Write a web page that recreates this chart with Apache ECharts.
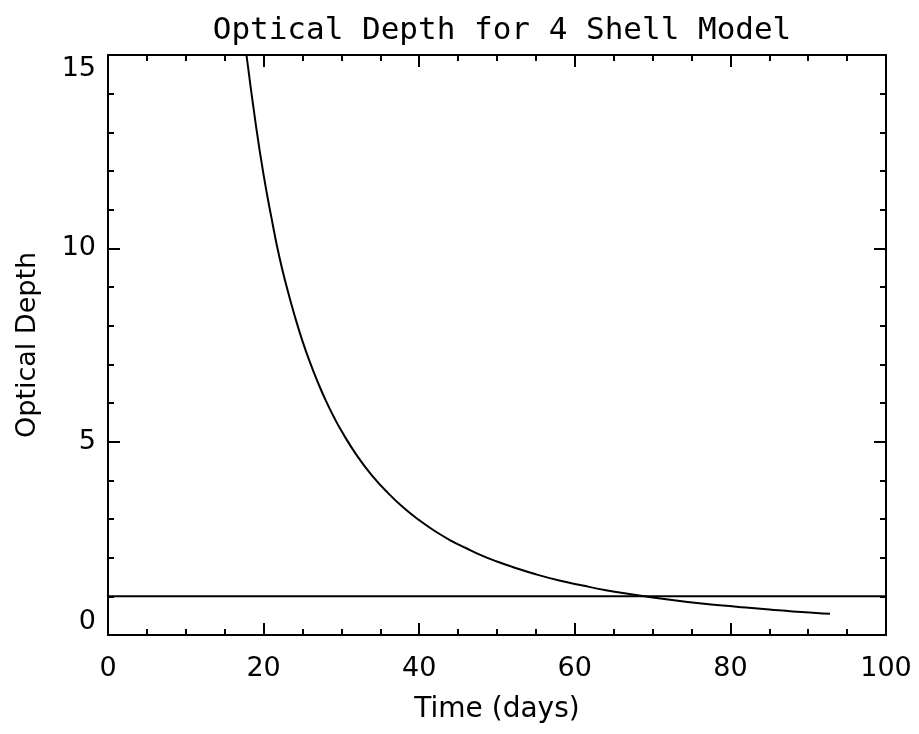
<!DOCTYPE html>
<html>
<head>
<meta charset="utf-8">
<title>Optical Depth for 4 Shell Model</title>
<script src="https://cdn.jsdelivr.net/npm/echarts@6/dist/echarts.min.js"></script>
<style>
  html, body { margin: 0; padding: 0; background: #fff; }
  #chart { width: 919px; height: 734px; }
</style>
</head>
<body>
<div id="chart"></div>
<script>
// values
const timeDays = [17.8, 19, 20, 21, 22, 23, 24, 25, 26, 27, 28, 29, 30, 32, 34, 36, 38, 40,
  42, 44, 46, 48, 50, 52, 55, 58, 61, 64, 67, 70, 73, 76, 79, 82, 85, 88, 91, 92.8]
const opticalDepth = [15.0, 13.2, 11.9, 10.8, 9.8, 8.98, 8.25, 7.6, 7.03, 6.52, 6.06, 5.65, 5.28, 4.64, 4.11, 3.67, 3.29, 2.97,
  2.69, 2.45, 2.25, 2.06, 1.90, 1.76, 1.57, 1.41, 1.28, 1.16, 1.06, 0.97, 0.89, 0.82, 0.76, 0.71, 0.66, 0.61, 0.57, 0.55]

// tau = 1 reference line
const thresholdX = [0, 100]
const thresholdY = [1, 1]

const xTicks = [0, 20, 40, 60, 80, 100]
const yTicks = [0, 5, 10, 15]

const font = 'DejaVu Sans'
const ink = '#000'

const chart = echarts.init(document.getElementById('chart'), null, { renderer: 'canvas' })

const baseAxis = {
  axisLine: { show: true, onZero: false, lineStyle: { color: ink, width: 2 } },
  axisTick: { show: true, inside: true, length: 12, lineStyle: { color: ink, width: 2 } },
  minorTick: { show: true, length: 6, lineStyle: { color: ink, width: 2 } },
  splitLine: { show: false }
}

const xBase = {
  ...baseAxis,
  type: 'value',
  min: xTicks[0],
  max: xTicks[xTicks.length - 1],
  interval: xTicks[1] - xTicks[0],
  minorTick: { ...baseAxis.minorTick, splitNumber: 4 }
}

const yBase = {
  ...baseAxis,
  type: 'value',
  min: yTicks[0],
  max: yTicks[yTicks.length - 1],
  interval: yTicks[1] - yTicks[0],
  minorTick: { ...baseAxis.minorTick, splitNumber: 5 }
}

const option = {
  backgroundColor: '#fff',
  animation: false,
  title: {
    text: 'Optical Depth for 4 Shell Model',
    left: 497,
    textAlign: 'center',
    top: 10,
    textStyle: { fontFamily: 'DejaVu Sans Mono', fontSize: 31, fontWeight: 'normal', color: ink }
  },
  grid: { left: 108, right: 33, top: 55, bottom: 99, containLabel: false },
  xAxis: [
    {
      ...xBase,
      position: 'bottom',
      name: 'Time (days)',
      nameLocation: 'middle',
      nameGap: 61,
      nameTextStyle: { fontFamily: font, fontSize: 28, color: ink },
      axisLabel: { show: true, margin: 20, fontFamily: font, fontSize: 27, color: ink }
    },
    {
      ...xBase,
      position: 'top',
      axisLabel: { show: false }
    }
  ],
  yAxis: [
    {
      ...yBase,
      position: 'left',
      name: 'Optical Depth',
      nameLocation: 'middle',
      nameGap: 67,
      nameTextStyle: { fontFamily: font, fontSize: 27, color: ink },
      axisLabel: {
        show: true, margin: 12, fontFamily: font, fontSize: 27, color: ink,
        verticalAlignMaxLabel: 'top', verticalAlignMinLabel: 'bottom'
      }
    },
    {
      ...yBase,
      position: 'right',
      axisLabel: { show: false }
    }
  ],
  series: [
    {
      name: 'Optical Depth',
      type: 'line',
      xAxisIndex: 0,
      yAxisIndex: 0,
      data: timeDays.map((t, i) => [t, opticalDepth[i]]),
      showSymbol: false,
      smooth: true,
      clip: true,
      lineStyle: { color: ink, width: 2 }
    },
    {
      name: 'tau = 1',
      type: 'line',
      xAxisIndex: 0,
      yAxisIndex: 0,
      data: thresholdX.map((t, i) => [t, thresholdY[i]]),
      showSymbol: false,
      lineStyle: { color: ink, width: 2 }
    }
  ]
}

chart.setOption(option)
</script>
</body>
</html>
